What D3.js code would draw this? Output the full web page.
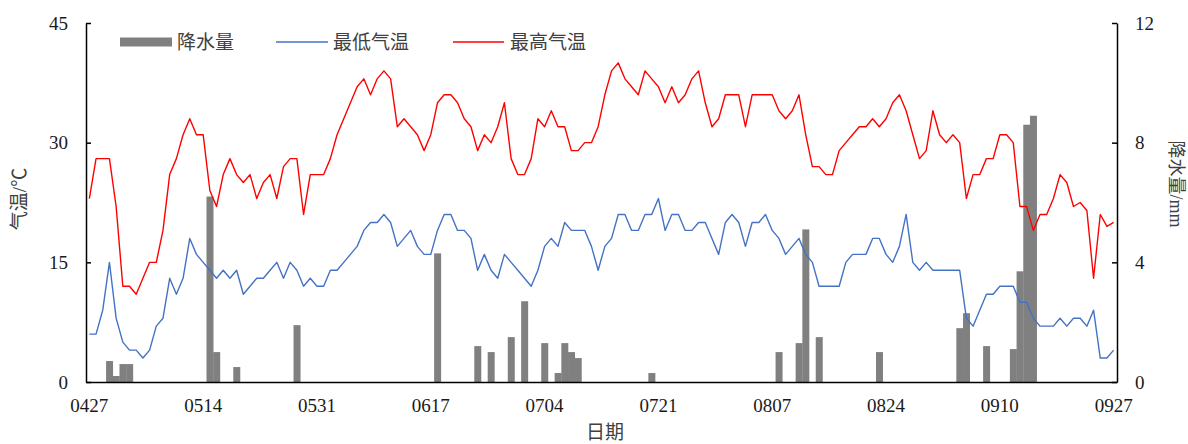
<!DOCTYPE html>
<html>
<head>
<meta charset="utf-8">
<script src="https://cdn.jsdelivr.net/npm/d3@7"></script>
<style>
  body { margin: 0; background: #fff; }
  svg { display: block; }
</style>
</head>
<body>
<div id="chart"></div>
<script>
// daily categories 04-27 .. 09-27
const startDate = new Date(2020, 3, 27);
const endDate = new Date(2020, 8, 28);
const days = d3.timeDay.range(startDate, endDate).map(d3.timeFormat("%m%d"));
const tickLabels = ["0427", "0514", "0531", "0617", "0704", "0721", "0807", "0824", "0910", "0927"];

const tempTicks = [0, 15, 30, 45];
const rainTicks = [0, 4, 8, 12];

// 最高气温 (°C)
const maxTemp = [
  23, 28, 28, 28, 22, 12, 12, 11, 13, 15, 15, 19, 26, 28, 31, 33, 31, 31, 24, 22,
  26, 28, 26, 25, 26, 23, 25, 26, 23, 27, 28, 28, 21, 26, 26, 26, 28, 31, 33, 35,
  37, 38, 36, 38, 39, 38, 32, 33, 32, 31, 29, 31, 35, 36, 36, 35, 33, 32, 29, 31,
  30, 32, 35, 28, 26, 26, 28, 33, 32, 34, 32, 32, 29, 29, 30, 30, 32, 36, 39, 40,
  38, 37, 36, 39, 38, 37, 35, 37, 35, 36, 38, 39, 35, 32, 33, 36, 36, 36, 32, 36,
  36, 36, 36, 34, 33, 34, 36, 31, 27, 27, 26, 26, 29, 30, 31, 32, 32, 33, 32, 33,
  35, 36, 34, 31, 28, 29, 34, 31, 30, 31, 30, 23, 26, 26, 28, 28, 31, 31, 30, 22,
  22, 19, 21, 21, 23, 26, 25, 22, 22.5, 21.5, 13, 21, 19.5, 20
];

// 最低气温 (°C)
const minTemp = [
  6, 6, 9, 15, 8, 5, 4, 4, 3, 4, 7, 8, 13, 11, 13, 18, 16, 15, 14, 13,
  14, 13, 14, 11, 12, 13, 13, 14, 15, 13, 15, 14, 12, 13, 12, 12, 14, 14, 15, 16,
  17, 19, 20, 20, 21, 20, 17, 18, 19, 17, 16, 16, 19, 21, 21, 19, 19, 18, 14, 16,
  14, 13, 16, 15, 14, 13, 12, 14, 17, 18, 17, 20, 19, 19, 19, 17, 14, 17, 18, 21,
  21, 19, 19, 21, 21, 23, 19, 21, 21, 19, 19, 20, 20, 18, 16, 20, 21, 20, 17, 20,
  20, 21, 19, 18, 16, 17, 18, 16, 15, 12, 12, 12, 12, 15, 16, 16, 16, 18, 18, 16,
  15, 17, 21, 15, 14, 15, 14, 14, 14, 14, 14, 8, 7, 9, 11, 11, 12, 12, 12, 10,
  10, 8, 7, 7, 7, 8, 7, 8, 8, 7, 9, 3, 3, 4
];

// 降水量 (mm)
const rainfall = [
  0, 0, 0, 0.7, 0.2, 0.6, 0.6, 0, 0, 0, 0, 0, 0, 0, 0, 0, 0, 0, 6.2, 1.0,
  0, 0, 0.5, 0, 0, 0, 0, 0, 0, 0, 0, 1.9, 0, 0, 0, 0, 0, 0, 0, 0,
  0, 0, 0, 0, 0, 0, 0, 0, 0, 0, 0, 0, 4.3, 0, 0, 0, 0, 0, 1.2, 0,
  1.0, 0, 0, 1.5, 0, 2.7, 0, 0, 1.3, 0, 0.3, 1.3, 1.0, 0.8, 0, 0, 0, 0, 0, 0,
  0, 0, 0, 0, 0.3, 0, 0, 0, 0, 0, 0, 0, 0, 0, 0, 0, 0, 0, 0, 0,
  0, 0, 0, 1.0, 0, 0, 1.3, 5.1, 0, 1.5, 0, 0, 0, 0, 0, 0, 0, 0, 1.0, 0,
  0, 0, 0, 0, 0, 0, 0, 0, 0, 0, 1.8, 2.3, 0, 0, 1.2, 0, 0, 0, 1.1, 3.7,
  8.6, 8.9, 0, 0, 0, 0, 0, 0, 0, 0, 0, 0, 0, 0
];

const width = 1188;
const height = 444;
const margin = { top: 23, right: 71, bottom: 62, left: 86 };
const serif = "Liberation Serif, Times New Roman, Times, Tinos, DejaVu Serif, serif";
const titleFont = "Liberation Serif, Times New Roman, Times, Noto Sans CJK SC, serif";
const cjk = "Noto Sans CJK SC, sans-serif";

const svg = d3.select("#chart")
  .append("svg")
  .attr("width", width)
  .attr("height", height);

const x = d3.scaleBand()
  .domain(d3.range(days.length))
  .range([margin.left, width - margin.right])
  .padding(0);

const yTemp = d3.scaleLinear()
  .domain([0, 45])
  .range([height - margin.bottom, margin.top]);

const yRain = d3.scaleLinear()
  .domain([0, 12])
  .range([height - margin.bottom, margin.top]);

const cx = i => x(i) + x.bandwidth() / 2;

// bars
svg.append("g")
  .attr("fill", "#808080")
  .selectAll("rect")
  .data(rainfall.map((v, i) => ({ v, i })).filter(d => d.v > 0))
  .join("rect")
  .attr("x", d => x(d.i))
  .attr("width", x.bandwidth() + 0.3)
  .attr("y", d => yRain(d.v))
  .attr("height", d => yRain(0) - yRain(d.v));

const line = yScale => d3.line()
  .x((d, i) => cx(i))
  .y(d => yScale(d));

svg.append("path")
  .datum(minTemp)
  .attr("fill", "none")
  .attr("stroke", "#4472C4")
  .attr("stroke-width", 1.4)
  .attr("stroke-linejoin", "round")
  .attr("d", line(yTemp));

svg.append("path")
  .datum(maxTemp)
  .attr("fill", "none")
  .attr("stroke", "#FF0000")
  .attr("stroke-width", 1.4)
  .attr("stroke-linejoin", "round")
  .attr("d", line(yTemp));

// axes
const xAxis = svg.append("g")
  .attr("transform", `translate(0,${height - margin.bottom})`)
  .call(d3.axisBottom(x)
    .tickValues(tickLabels.map(t => days.indexOf(t)))
    .tickFormat(i => days[i])
    .tickSize(0)
    .tickPadding(17));

const leftAxis = svg.append("g")
  .attr("transform", `translate(${margin.left},0)`)
  .call(d3.axisLeft(yTemp)
    .tickValues(tempTicks)
    .tickSizeInner(-5)
    .tickSizeOuter(0)
    .tickPadding(18));

const rightAxis = svg.append("g")
  .attr("transform", `translate(${width - margin.right},0)`)
  .call(d3.axisRight(yRain)
    .tickValues(rainTicks)
    .tickSizeInner(-5)
    .tickSizeOuter(0)
    .tickPadding(18));

[xAxis, leftAxis, rightAxis].forEach(g => {
  g.attr("font-family", null).attr("font-size", null);
  g.select(".domain").attr("stroke", "#000").attr("stroke-width", 1.5);
  g.selectAll(".tick line").attr("stroke", "#000").attr("stroke-width", 1.5);
  g.selectAll(".tick text")
    .attr("fill", "#1a1a1a")
    .style("font-family", serif)
    .style("font-size", "19px");
});

// axis titles
svg.append("text")
  .attr("transform", "translate(19,199) rotate(-90)")
  .attr("text-anchor", "middle")
  .attr("dy", "0.35em")
  .style("font-family", titleFont)
  .style("font-size", "19px")
  .attr("fill", "#404040")
  .text("气温/℃");

svg.append("text")
  .attr("transform", "translate(1176,184) rotate(90)")
  .attr("text-anchor", "middle")
  .attr("dy", "0.35em")
  .style("font-family", titleFont)
  .style("font-size", "18px")
  .attr("fill", "#404040")
  .text("降水量/mm");

svg.append("text")
  .attr("x", 605)
  .attr("y", 432)
  .attr("text-anchor", "middle")
  .attr("dy", "0.35em")
  .style("font-family", cjk)
  .style("font-size", "19px")
  .attr("fill", "#404040")
  .text("日期");

// legend
const legendY = 42;
const legend = svg.append("g")
  .style("font-family", cjk)
  .style("font-size", "19px")
  .attr("fill", "#404040");

legend.append("rect")
  .attr("x", 120).attr("y", legendY - 4.5)
  .attr("width", 52).attr("height", 9)
  .attr("fill", "#808080");
legend.append("text")
  .attr("x", 177).attr("y", legendY).attr("dy", "0.35em")
  .text("降水量");

legend.append("line")
  .attr("x1", 276).attr("x2", 328)
  .attr("y1", legendY).attr("y2", legendY)
  .attr("stroke", "#4472C4").attr("stroke-width", 1.4);
legend.append("text")
  .attr("x", 333).attr("y", legendY).attr("dy", "0.35em")
  .text("最低气温");

legend.append("line")
  .attr("x1", 453).attr("x2", 504)
  .attr("y1", legendY).attr("y2", legendY)
  .attr("stroke", "#FF0000").attr("stroke-width", 1.4);
legend.append("text")
  .attr("x", 510).attr("y", legendY).attr("dy", "0.35em")
  .text("最高气温");
</script>
</body>
</html>
